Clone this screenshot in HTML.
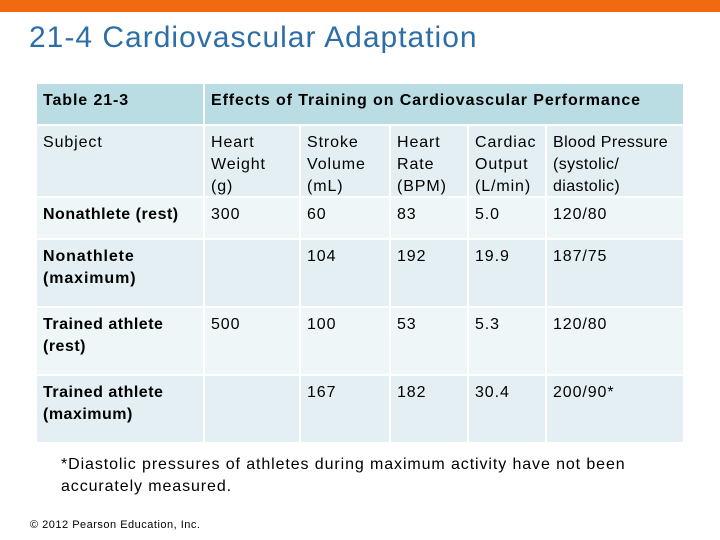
<!DOCTYPE html>
<html><head><meta charset="utf-8"><style>
body{margin:0;width:720px;height:540px;background:#fff;position:relative;overflow:hidden;font-family:"Liberation Sans",Arial,sans-serif;}
.bar{position:absolute;left:0;top:0;width:720px;height:12px;background:#f26a0f;}
.title{position:absolute;left:29px;top:21px;font-size:30px;letter-spacing:1px;color:#2d6ea6;white-space:nowrap;}
.c{position:absolute;box-sizing:border-box;padding:6px 0 0 6px;font-size:16px;line-height:22px;letter-spacing:0.9px;color:#000;white-space:nowrap;}
.h{background:#b9dde3;font-weight:bold;}
.d{background:#e3eff2;}
.l{background:#eef6f8;}
.b{font-weight:bold;}
.note{position:absolute;left:61px;top:454px;font-size:16px;line-height:22px;letter-spacing:0.9px;white-space:nowrap;}
.copy{position:absolute;left:30px;top:519px;font-size:11px;letter-spacing:0.5px;}
</style></head><body>
<div class="bar"></div>
<div class="title">21-4 Cardiovascular Adaptation</div>
<div>
<div class="c h" style="left:37px;top:84px;width:166px;height:40px">Table 21-3</div>
<div class="c h" style="left:205px;top:84px;width:478px;height:40px">Effects of Training on Cardiovascular Performance</div>

<div class="c d" style="left:37px;top:126px;width:166px;height:70px">Subject</div>
<div class="c d" style="left:205px;top:126px;width:94px;height:70px">Heart<br>Weight<br>(g)</div>
<div class="c d" style="left:301px;top:126px;width:88px;height:70px">Stroke<br>Volume<br>(mL)</div>
<div class="c d" style="left:391px;top:126px;width:76px;height:70px">Heart<br>Rate<br>(BPM)</div>
<div class="c d" style="left:469px;top:126px;width:76px;height:70px">Cardiac<br>Output<br>(L/min)</div>
<div class="c d" style="left:547px;top:126px;width:136px;height:70px;letter-spacing:0.4px">Blood Pressure<br>(systolic/<br>diastolic)</div>

<div class="c l b" style="left:37px;top:198px;width:166px;height:40px;letter-spacing:0.5px">Nonathlete (rest)</div>
<div class="c l" style="left:205px;top:198px;width:94px;height:40px">300</div>
<div class="c l" style="left:301px;top:198px;width:88px;height:40px">60</div>
<div class="c l" style="left:391px;top:198px;width:76px;height:40px">83</div>
<div class="c l" style="left:469px;top:198px;width:76px;height:40px">5.0</div>
<div class="c l" style="left:547px;top:198px;width:136px;height:40px">120/80</div>

<div class="c d b" style="left:37px;top:240px;width:166px;height:66px">Nonathlete<br>(maximum)</div>
<div class="c d" style="left:205px;top:240px;width:94px;height:66px"></div>
<div class="c d" style="left:301px;top:240px;width:88px;height:66px">104</div>
<div class="c d" style="left:391px;top:240px;width:76px;height:66px">192</div>
<div class="c d" style="left:469px;top:240px;width:76px;height:66px">19.9</div>
<div class="c d" style="left:547px;top:240px;width:136px;height:66px">187/75</div>

<div class="c l b" style="left:37px;top:308px;width:166px;height:66px;letter-spacing:0.5px">Trained athlete<br>(rest)</div>
<div class="c l" style="left:205px;top:308px;width:94px;height:66px">500</div>
<div class="c l" style="left:301px;top:308px;width:88px;height:66px">100</div>
<div class="c l" style="left:391px;top:308px;width:76px;height:66px">53</div>
<div class="c l" style="left:469px;top:308px;width:76px;height:66px">5.3</div>
<div class="c l" style="left:547px;top:308px;width:136px;height:66px">120/80</div>

<div class="c d b" style="left:37px;top:376px;width:166px;height:66px;letter-spacing:0.5px">Trained athlete<br>(maximum)</div>
<div class="c d" style="left:205px;top:376px;width:94px;height:66px"></div>
<div class="c d" style="left:301px;top:376px;width:88px;height:66px">167</div>
<div class="c d" style="left:391px;top:376px;width:76px;height:66px">182</div>
<div class="c d" style="left:469px;top:376px;width:76px;height:66px">30.4</div>
<div class="c d" style="left:547px;top:376px;width:136px;height:66px">200/90*</div>
</div>
<div class="note">*Diastolic pressures of athletes during maximum activity have not been<br>accurately measured.</div>
<div class="copy">© 2012 Pearson Education, Inc.</div>
</body></html>
